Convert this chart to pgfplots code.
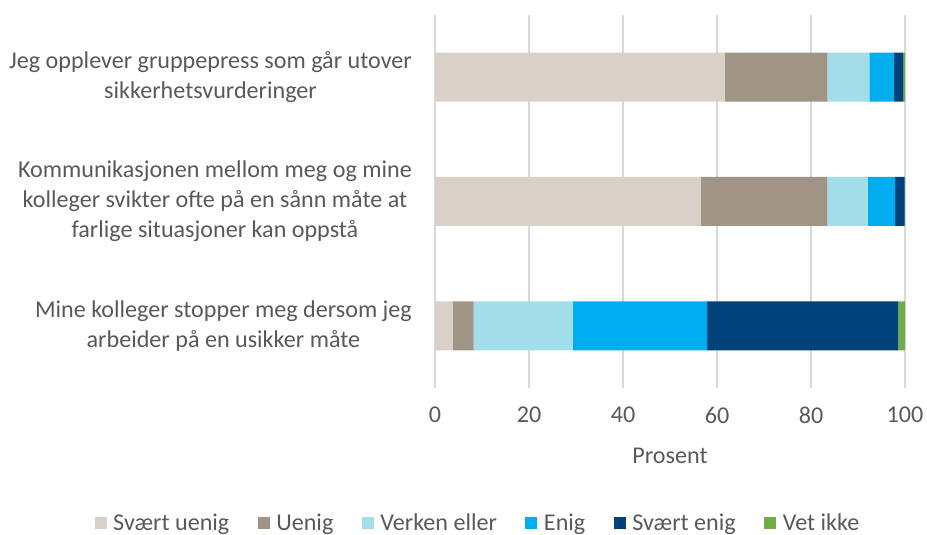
\documentclass[border=0pt]{standalone}
\usepackage{pgfplots}
\pgfplotsset{compat=1.18}
\usepackage{fontspec}
\setmainfont{Carlito}
\definecolor{txt}{HTML}{595959}
\definecolor{grd}{HTML}{D9D9D9}
\definecolor{cA}{HTML}{D9D0C7}
\definecolor{cB}{HTML}{A09486}
\definecolor{cC}{HTML}{A3DDE9}
\definecolor{cD}{HTML}{00AEEF}
\definecolor{cE}{HTML}{00437A}
\definecolor{cF}{HTML}{70AD47}
\pgfplotstableread{
y A B C D E F
0 3.8 4.4 21.1 28.6 40.7 1.4
1 56.5 27.0 8.6 5.8 2.0 0.1
2 61.6 21.9 8.9 5.3 1.9 0.4
}\data
\begin{document}
\begin{tikzpicture}
\useasboundingbox (0bp,0bp) rectangle (927bp,535bp);
\begin{axis}[
  at={(435bp,147bp)}, anchor=south west,
  scale only axis, width=470bp, height=373bp,
  xbar stacked, bar width=49bp,
  xmin=0, xmax=100, ymin=-0.5, ymax=2.5,
  xtick={0,20,40,60,80,100},
  ytick={0,1,2},
  yticklabels={{Mine kolleger stopper meg dersom jeg\\arbeider på en usikker måte},
               {Kommunikasjonen mellom meg og mine\\kolleger svikter ofte på en sånn måte at\\farlige situasjoner kan oppstå},
               {Jeg opplever gruppepress som går utover\\sikkerhetsvurderinger}},
  yticklabel style={align=center, anchor=east, inner sep=0pt, xshift=-23bp, font=\fontsize{24.2}{30}\selectfont, text=txt},
  xticklabel style={font=\fontsize{24.2}{29}\selectfont, text=txt, inner sep=0pt, yshift=-19bp},
  /pgf/number format/assume math mode=true,
  xlabel={Prosent},
  xlabel style={font=\fontsize{24.2}{29}\selectfont, text=txt, yshift=-21bp},
  axis line style={draw=none},
  major tick length=0pt,
  xmajorgrids, grid style={grd, line width=1.5bp},
  legend columns=6,
  legend style={at={(axis description cs:0.0894,-0.362)}, anchor=center, draw=none, fill=none,
    font=\fontsize{24.2}{29}\selectfont, text=txt,
    nodes={inner xsep=0pt},
    /tikz/every odd column/.append style={column sep=6.5bp},
    /tikz/every even column/.append style={column sep=28.5bp}},
  legend image code/.code={\fill[#1] (0bp,-6bp) rectangle (12bp,6bp);},
]
\addplot[fill=cA, draw=none] table[x=A, y=y] {\data};
\addplot[fill=cB, draw=none] table[x=B, y=y] {\data};
\addplot[fill=cC, draw=none] table[x=C, y=y] {\data};
\addplot[fill=cD, draw=none] table[x=D, y=y] {\data};
\addplot[fill=cE, draw=none] table[x=E, y=y] {\data};
\addplot[fill=cF, draw=none] table[x=F, y=y] {\data};
\legend{Svært uenig, Uenig, Verken eller, Enig, Svært enig, Vet ikke}
\end{axis}
\end{tikzpicture}
\end{document}
